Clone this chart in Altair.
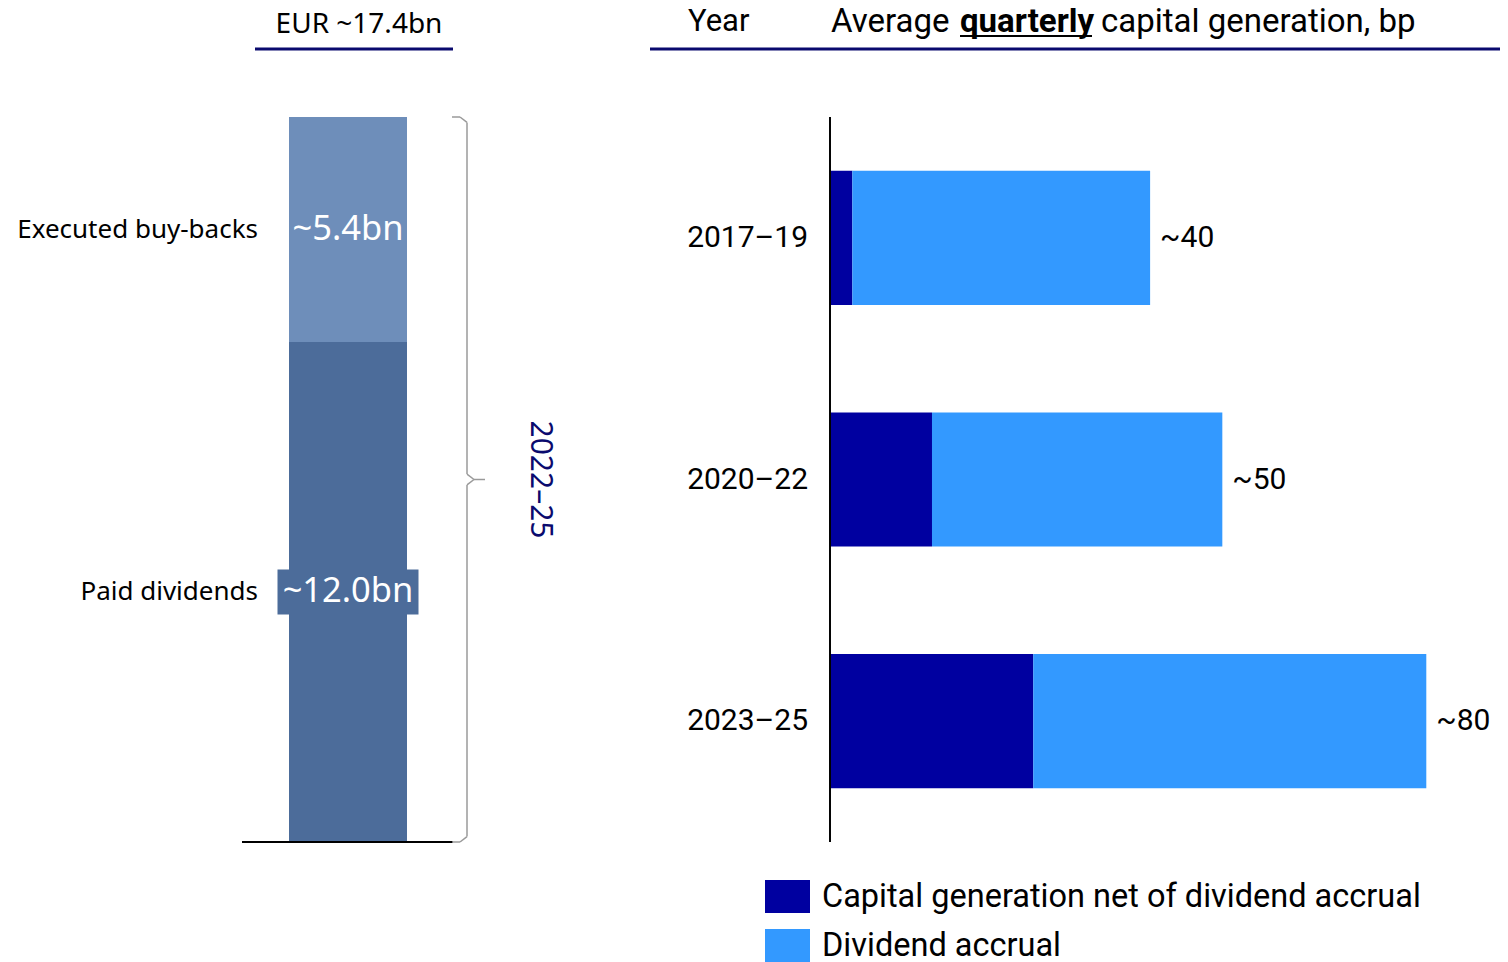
import altair as alt
import pandas as pd

# ---------------- data ----------------
left_period = "2022–25"
left_components = ["Paid dividends", "Executed buy-backs"]
left_values = [12.0, 5.4]
left_labels = ["~12.0bn", "~5.4bn"]
left_total_label = "EUR ~17.4bn"

periods = ["2017–19", "2020–22", "2023–25"]
series = ["Capital generation net of dividend accrual", "Dividend accrual"]
cap_net = [3.0, 13.7, 27.3]
div_accrual = [40.0, 39.0, 52.8]
total_labels = ["~40", "~50", "~80"]

header_year = "Year"
header_parts = ["Average", "quarterly", "capital generation, bp"]

# ---------------- styles ----------------
NAVY = "#0A0A6E"
LEFT_FONT = "Noto Sans"
RIGHT_FONT = "Roboto"
C_DIV = "#4C6C9A"
C_BB = "#6E8EBA"
C_DARK = "#0000A0"
C_LIGHT = "#3399FF"

# ---------------- left panel ----------------
total = sum(left_values)
cum = 0.0
mids = []
for v in left_values:
    mids.append(cum + v / 2)
    cum += v
left_df = pd.DataFrame({
    "period": [left_period] * len(left_values),
    "component": left_components,
    "value": left_values,
    "label": left_labels,
    "idx": list(range(len(left_values))),
    "mid": mids,
})

ly = alt.Scale(domain=[0, total], range=[834, 109], nice=False, zero=False)
lx = alt.Scale(domain=[left_period], range=[234, 446], paddingInner=0, paddingOuter=0)

left_bar = alt.Chart(left_df).mark_bar(size=118).encode(
    x=alt.X("period:N", scale=lx, axis=None),
    y=alt.Y("value:Q", stack="zero", scale=ly, axis=None),
    color=alt.Color("component:N", scale=alt.Scale(domain=left_components, range=[C_DIV, C_BB]), legend=None),
    order=alt.Order("idx:Q"),
)

left_box = alt.Chart(left_df).transform_filter(
    alt.datum.component == left_components[0]
).mark_point(
    shape="M-1,-0.32H1V0.32H-1Z", size=141 * 141, filled=True, opacity=1, color=C_DIV, strokeWidth=0
).encode(
    x=alt.X("period:N", scale=lx, axis=None),
    y=alt.Y("mid:Q", scale=ly, axis=None),
)

left_vals = alt.Chart(left_df).mark_text(
    color="white", fontSize=34.5, font=LEFT_FONT, baseline="middle"
).encode(
    x=alt.X("period:N", scale=lx, axis=None),
    y=alt.Y("mid:Q", scale=ly, axis=None),
    text="label:N",
)

left_cats = alt.Chart(left_df).mark_text(
    color="black", fontSize=26, font=LEFT_FONT, align="right", baseline="middle"
).encode(
    x=alt.value(250),
    y=alt.Y("mid:Q", scale=ly, axis=None),
    text="component:N",
)

base_df = pd.DataFrame({"v": [0.0]})
left_base = alt.Chart(base_df).mark_rule(color="black", strokeWidth=2).encode(
    x=alt.value(234), x2=alt.value(445), y=alt.Y("v:Q", scale=ly, axis=None)
)

# brace (annotation geometry: pixel x, value y)
d = 0.13
brace_df = pd.DataFrame({
    "x1": [444, 452, 459, 459, 466, 466, 459, 459, 444],
    "x2": [452, 459, 459, 466, 477, 459, 459, 452, 452],
    "y1": [total, total, total - d, total / 2 + d, total / 2, total / 2, total / 2 - d, d, 0],
    "y2": [total, total - d, total / 2 + d, total / 2, total / 2, total / 2 - d, d, 0, 0],
})
brace = alt.Chart(brace_df).mark_rule(color="#9a9a9a", strokeWidth=1.5).encode(
    x=alt.X("x1:Q", scale=None, axis=None),
    x2="x2:Q",
    y=alt.Y("y1:Q", scale=ly, axis=None),
    y2="y2:Q",
)

period_df = pd.DataFrame({"period": [left_period], "mid": [total / 2]})
period_text = alt.Chart(period_df).mark_text(
    angle=90, color=NAVY, fontSize=30, font=LEFT_FONT, align="center", baseline="middle"
).encode(
    x=alt.value(532), y=alt.Y("mid:Q", scale=ly, axis=None), text="period:N"
)

title_df = pd.DataFrame({"t": [left_total_label]})
left_title = alt.Chart(title_df).mark_text(
    fontSize=28, font=LEFT_FONT, color="black", align="center", baseline="alphabetic"
).encode(x=alt.value(351), y=alt.value(25), text="t:N")
left_uline = alt.Chart(title_df).mark_rule(color=NAVY, strokeWidth=3).encode(
    x=alt.value(247), x2=alt.value(445), y=alt.value(41)
)

left = alt.layer(left_bar, left_box, left_vals, left_cats, left_base, brace, period_text, left_title, left_uline)

# ---------------- right panel ----------------
rows = []
for i, p in enumerate(periods):
    rows.append({"period": p, "series": series[0], "value": cap_net[i], "idx": 0})
    rows.append({"period": p, "series": series[1], "value": div_accrual[i], "idx": 1})
rdf = pd.DataFrame(rows)
tdf = pd.DataFrame({
    "period": periods,
    "total": [a + b for a, b in zip(cap_net, div_accrual)],
    "label": total_labels,
})

rx = alt.Scale(domain=[0, 90], range=[822, 1492], nice=False, zero=False)
ry = alt.Scale(domain=periods, range=[109, 834], paddingInner=0.445, paddingOuter=0.2225)

right_bars = alt.Chart(rdf).mark_bar().encode(
    y=alt.Y("period:N", scale=ry, axis=None),
    x=alt.X("value:Q", stack="zero", scale=rx, axis=None),
    color=alt.Color(
        "series:N",
        scale=alt.Scale(domain=series, range=[C_DARK, C_LIGHT]),
        legend=alt.Legend(
            orient="none", legendX=757, legendY=866, title=None,
            symbolType="M-1,-0.733H1V0.733H-1Z", symbolSize=2025,
            symbolStrokeWidth=0, symbolOpacity=1,
            labelFontSize=32.5, labelFont=RIGHT_FONT, labelColor="black",
            labelOffset=12, labelLimit=900, rowPadding=10, padding=0,
            direction="vertical",
        ),
    ),
    order=alt.Order("idx:Q"),
)

right_totals = alt.Chart(tdf).mark_text(
    align="left", baseline="middle", dx=10, fontSize=30, font=RIGHT_FONT, color="black"
).encode(
    y=alt.Y("period:N", scale=ry, axis=None),
    x=alt.X("total:Q", scale=rx, axis=None),
    text="label:N",
)

right_years = alt.Chart(tdf).mark_text(
    align="right", baseline="middle", fontSize=30, font=RIGHT_FONT, color="black"
).encode(
    y=alt.Y("period:N", scale=ry, axis=None),
    x=alt.value(800),
    text="period:N",
)

right_axis = alt.Chart(tdf).mark_rule(color="black", strokeWidth=1.5).encode(
    x=alt.value(822), y=alt.value(109), y2=alt.value(834)
)

right = alt.layer(right_bars, right_totals, right_years, right_axis)

# ---------------- header (right) ----------------
HDR = 33
hdr_year = alt.Chart(pd.DataFrame({"t": [header_year]})).mark_text(
    fontSize=31, font=RIGHT_FONT, color="black", align="left", baseline="alphabetic"
).encode(x=alt.value(680), y=alt.value(23), text="t:N")
hdr_a = alt.Chart(pd.DataFrame({"t": [header_parts[0]]})).mark_text(
    fontSize=HDR, font=RIGHT_FONT, color="black", align="left", baseline="alphabetic"
).encode(x=alt.value(823), y=alt.value(24), text="t:N")
hdr_b = alt.Chart(pd.DataFrame({"t": [header_parts[1]]})).mark_text(
    fontSize=HDR, font=RIGHT_FONT, fontWeight="bold", color="black", align="left", baseline="alphabetic"
).encode(x=alt.value(952), y=alt.value(24), text="t:N")
hdr_c = alt.Chart(pd.DataFrame({"t": [header_parts[2]]})).mark_text(
    fontSize=HDR, font=RIGHT_FONT, color="black", align="left", baseline="alphabetic"
).encode(x=alt.value(1093), y=alt.value(24), text="t:N")
hdr_ul = alt.Chart(pd.DataFrame({"t": [header_parts[1]]})).mark_rule(color="black", strokeWidth=2).encode(
    x=alt.value(952), x2=alt.value(1084), y=alt.value(28)
)
hdr_rule = alt.Chart(pd.DataFrame({"t": [header_year]})).mark_rule(color=NAVY, strokeWidth=3).encode(
    x=alt.value(642), x2=alt.value(1492), y=alt.value(41)
)

chart = alt.layer(
    left, right, hdr_year, hdr_a, hdr_b, hdr_c, hdr_ul, hdr_rule
).resolve_scale(
    x="independent", y="independent", color="independent"
).properties(
    width=1492, height=954, padding=0,
    autosize=alt.AutoSizeParams(type="none"),
).configure_view(stroke=None)

chart.save("out.html", embed_options={"renderer": "svg", "actions": False})
